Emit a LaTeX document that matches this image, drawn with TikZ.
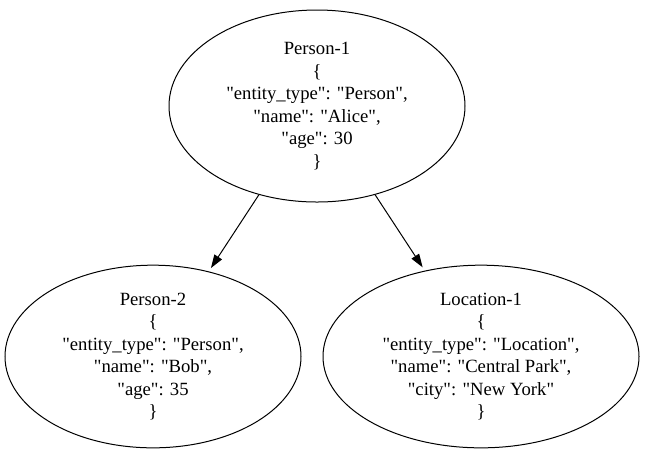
\documentclass[tikz,border=0pt]{standalone}
\usepackage{fontspec}
\setmainfont{Liberation Serif}[Ligatures=TeXOff]
\usepackage{tikz}
\usetikzlibrary{shapes.geometric, arrows.meta, positioning}

\begin{document}
\begin{tikzpicture}[x=0.75pt, y=-0.75pt,
    entity/.style={ellipse, draw, line width=0.75pt, align=center, inner sep=0pt,
        font=\fontsize{14pt}{16.9pt}\selectfont},
    link/.style={-{Triangle[length=10pt, width=6.7pt]}, line width=0.75pt, shorten >=3pt}]
    \useasboundingbox (0,0) rectangle (645,462);

    % Root entity
    \node[entity, minimum width=222pt, minimum height=144pt] (person1) at (317,106)
        {Person-1\\ \{\\ "entity\_type": "Person",\\ "name": "Alice",\\ "age": 30\\ \}};

    % Child entities
    \node[entity, minimum width=222pt, minimum height=137pt] (person2) at (153,356.5)
        {Person-2\\ \{\\ "entity\_type": "Person",\\ "name": "Bob",\\ "age": 35\\ \}};
    \node[entity, minimum width=237pt, minimum height=137pt] (location1) at (481,356.5)
        {Location-1\\ \{\\ "entity\_type": "Location",\\ "name": "Central Park",\\ "city": "New York"\\ \}};

    % Relations
    \draw[link] (person1) -- (person2);
    \draw[link] (person1) -- (location1);
\end{tikzpicture}
\end{document}
